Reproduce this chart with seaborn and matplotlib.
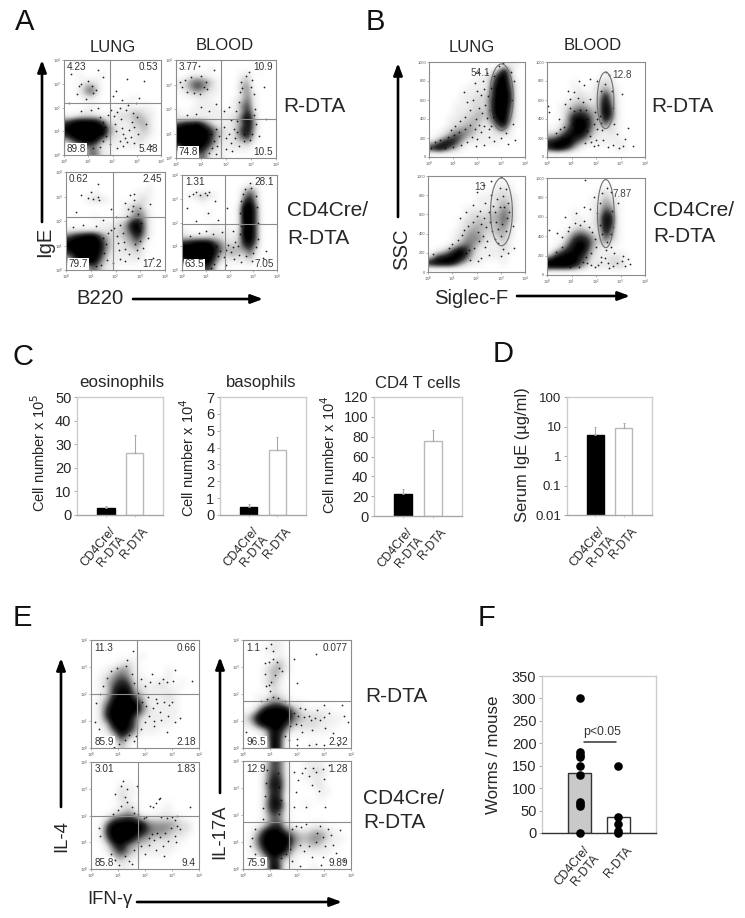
import matplotlib
matplotlib.use('Agg')
import numpy as np
import pandas as pd
import seaborn as sns
import matplotlib.pyplot as plt
from matplotlib.colors import LinearSegmentedColormap
from matplotlib.patches import Ellipse
from matplotlib.transforms import ScaledTranslation

# flow plots
# *_DENS = darkness per 0.25 decade cell, 0 white to 8+ black, top row first, 16 by 16
# *_DOTS = single events, x and y in log decades (SSC linear)

A1_DENS = ["0000000000000000","0000000000000000","0010001000000000","0001110000000000","0013420000000000","0013520000000000","0001100000010000","0000110000100100",
           "0001100011122110","1122221112233210","6899985211123310","8999999421122310","7999998321112210","3689973211112100","1134531111111000","0112541100000000"]
A1_DOTS = [(0.6,2.9),(0.7,3.0),(1.15,2.9),(1.2,2.6),(0.55,2.55),(1.0,3.1),(1.3,2.75),(0.9,2.35),(1.5,1.6),(1.6,1.4),(1.7,1.2),(1.55,0.9),(1.6,0.6),(1.75,0.8),(1.8,1.7),
           (1.95,1.9),(2.05,1.65),(2.1,1.3),(2.15,1.0),(2.2,1.8),(2.3,2.0),(2.35,1.5),(2.4,1.15),(2.45,0.9),(2.5,0.7),(2.55,1.9),(2.65,2.1),(2.7,1.05),(2.75,0.75),(2.8,1.4),
           (2.85,1.75),(2.9,1.2),(2.95,2.2),(3.0,1.6),(3.05,0.9),(2.6,0.55),(2.45,0.4),(2.3,0.6),(3.1,2.4),(2.4,2.3),(2.0,2.5),(1.6,3.3),(2.6,3.2),(3.3,3.1),(0.3,3.4),(1.4,3.6),
           (2.2,0.3),(1.5,0.35),(1.2,0.3),(0.5,0.3),(0.9,0.05),(3.4,1.3),(3.6,0.4),(0.2,2.2),(1.4,2.0),(1.1,1.9),(0.7,1.85),(2.15,2.7),(2.9,0.5),(1.9,0.45)]

A2_DENS = ["0000000000000000","0000010000000100","0011100000120000","1245431000230000","1246421000340000","0122211000241000","0001110001251000","0001111001461000",
           "1011111111372000","1111111112593000","6889631112484000","9999974212683000","9999973212572000","8999963112231000","3899641111110000","0024511100000000"]
A2_DOTS = [(0.15,3.1),(0.25,2.9),(0.35,3.2),(1.1,2.9),(1.2,3.1),(1.25,2.8),(0.45,2.7),(0.7,2.65),(0.95,2.6),(0.6,3.3),(1.0,3.35),(1.4,1.0),(1.5,0.7),(1.6,1.2),(1.45,0.4),(1.7,0.9),(1.65,0.5),
           (1.9,1.25),(2.0,0.8),(2.1,1.0),(2.2,0.6),(2.3,1.2),(2.35,0.8),(2.45,1.5),(2.4,1.9),(2.5,2.3),(2.55,2.7),(2.6,3.1),(3.05,3.2),(3.1,2.6),(3.15,2.0),(3.2,1.4),(3.05,1.0),(2.95,0.75),
           (2.7,0.7),(2.5,0.5),(2.25,0.3),(2.0,0.35),(1.6,0.15),(1.3,0.2),(3.3,0.9),(3.5,2.9),(1.6,2.2),(1.3,1.9),(1.0,2.1),(0.8,1.8),(0.45,1.75),(1.9,1.9),(2.1,2.1),(1.5,3.6),(0.9,3.75),
           (2.9,3.5),(2.8,3.35),(2.65,2.85),(3.0,2.9),(2.7,1.0),(2.45,1.05),(3.1,1.75),(2.2,1.55),(3.6,1.6)]

A3_DENS = ["0000000000000000","0000000000000000","0000000000000100","0000100000011100","0001221000012100","0000000001232000","0000000001243100","0000100011354100",
           "0000011123795100","1111111223695100","5789963223474100","8999984212352000","8999984212231000","5899973111121000","2589952111110000","0013531100000000"]
A3_DOTS = [(0.9,2.95),(1.1,2.9),(1.3,3.0),(1.35,2.85),(0.6,3.05),(1.0,3.2),(1.5,1.3),(1.6,1.05),(1.55,0.7),(1.65,0.4),(1.7,1.5),(1.8,1.65),(1.95,1.7),(2.05,1.4),(2.1,1.1),(2.15,0.8),(2.2,1.85),(2.3,1.5),
           (2.35,1.15),(2.4,0.85),(2.45,2.2),(2.5,2.5),(2.55,0.65),(2.65,2.4),(2.7,2.6),(2.75,2.85),(2.8,1.05),(2.85,0.8),(2.9,2.3),(2.95,1.6),(3.0,1.2),(3.0,2.55),(3.05,1.9),(2.4,2.75),(2.6,3.05),(2.75,3.1),
           (2.2,0.45),(1.9,0.3),(1.4,0.2),(1.2,0.15),(0.5,0.2),(3.3,1.3),(3.5,0.5),(3.4,2.7),(1.5,2.05),(1.2,1.8),(0.7,1.85),(0.3,1.75),(2.0,2.15),(1.8,2.5),(1.3,3.5),(0.4,2.35),(2.9,0.5),(2.4,0.35),(3.1,0.9)]

A4_DENS = ["0000000000000000","0000000000010000","0000000000242000","0123210000463000","0001000000683000","0000000001995000","0000100001995000","0000000001995000",
           "0000010001895000","1000111111995000","2222222112895000","7899964222784000","9999985333462000","9999973232241000","5899952111120000","0025630000000000"]
A4_DOTS = [(0.45,3.2),(0.6,3.3),(0.75,3.15),(0.95,3.25),(1.05,3.15),(1.15,3.3),(0.3,3.1),(1.3,0.7),(1.45,1.0),(1.5,0.6),(1.6,0.8),(1.75,0.55),(1.85,0.85),(1.95,1.05),(2.05,0.75),(2.15,0.95),(2.25,1.2),(2.35,1.0),
           (2.4,0.65),(2.45,1.5),(2.5,1.85),(2.45,2.4),(2.5,2.9),(2.55,3.2),(2.65,3.4),(2.9,3.45),(3.1,3.1),(3.15,2.65),(3.2,2.0),(3.2,1.3),(3.1,0.95),(3.0,0.7),(2.7,0.6),(2.5,0.35),(2.2,0.45),(1.85,0.2),(1.35,0.25),
           (1.2,0.1),(3.4,0.5),(3.55,0.8),(1.7,1.6),(1.3,1.5),(1.0,1.65),(0.7,1.55),(0.35,1.45),(1.5,2.1),(1.1,2.4),(0.6,2.05),(1.9,2.6),(1.4,2.9),(0.2,2.6),(2.15,1.65),(2.85,3.65),(2.95,0.4)]

B1_DENS = ["0000000000001110","0000000000138300","0000000011379400","0000000111489510","0000001111599610","0000011122599710","0000011222699710","0000111222699610",
           "0000112232699510","0001122332589410","0001223321368300","0012344321134100","0124653211111100","2478631111110000","7985310000000000","0000000000000000"]
B1_DOTS = [(0.1,95),(0.25,160),(0.45,180),(0.65,95),(0.8,210),(1.0,105),(1.05,230),(1.25,260),(1.35,125),(1.5,300),(1.6,160),(1.7,340),(1.8,210),(1.9,300),(1.95,400),(2.0,190),(2.1,340),(2.15,260),(2.2,460),(2.3,330),(2.35,550),
           (2.4,410),(2.45,640),(2.5,300),(2.55,500),(2.6,730),(2.65,420),(2.7,850),(1.5,420),(1.7,500),(1.85,600),(2.0,700),(2.15,650),(2.25,800),(2.4,880),(1.3,380),(1.1,330),(0.9,280),(1.6,580),(1.9,780),(2.1,520),(2.3,720),(2.5,210),
           (2.7,170),(3.0,200),(3.2,250),(3.5,350),(3.45,600),(3.55,800),(3.4,900),(2.9,960),(3.1,985),(2.05,900),(1.45,680),(2.3,130),(2.6,330),(1.95,120),(3.6,180),(3.3,140)]

B2_DENS = ["0000000000000000","0000000001000000","0000000001100000","0000100022200000","0000110123210000","0000121127310000","0001222138410000","0012343239510000",
           "0013565339610000","0014887428510000","0024898425210000","1136897321210000","3468875211110000","7899642111111000","7986310000011000","0000000000000000"]
B2_DOTS = [(0.35,250),(0.55,290),(0.7,320),(0.5,400),(0.75,560),(0.95,610),(1.1,680),(1.25,620),(1.45,580),(1.6,500),(1.65,270),(1.75,220),(1.9,350),(1.95,470),(2.05,400),(2.05,300),(2.15,430),(2.2,360),(2.1,130),(1.9,120),(2.3,180),
           (2.5,110),(2.7,125),(2.95,100),(3.1,120),(3.2,190),(2.85,240),(2.75,350),(2.7,520),(2.65,690),(2.55,860),(2.4,900),(2.35,770),(2.2,700),(2.05,800),(1.75,820),(1.3,800),(0.85,700),(0.05,540),(0.1,470),(2.25,280),(1.75,610),
           (1.5,760),(1.05,350),(0.6,200),(1.55,150),(1.8,160),(3.3,310),(3.05,660),(2.7,1020),(3.5,120),(2.0,180),(1.1,480),(0.95,520),(1.35,500),(1.65,400)]

B3_DENS = ["0000000000000000","0000000000011100","0000000000112100","0000000011122210","0000000011123210","0000001111224310","0000001222335310","0000012232335310",
           "0000012333234200","0000123432233200","0000124442123100","0001245421112100","0124796311112100","2678985211111000","8999742110001000","0000000000000000"]
B3_DOTS = [(0.2,185),(0.85,250),(1.0,290),(1.25,330),(1.4,390),(1.5,440),(1.55,200),(1.65,480),(1.7,230),(1.85,520),(1.9,250),(2.0,580),(2.05,420),(2.1,320),(2.15,640),(2.2,500),(2.25,380),(2.3,560),(2.35,720),(2.4,470),(2.45,320),(2.5,630),
           (2.55,520),(2.6,800),(2.65,430),(2.7,690),(2.75,340),(2.8,520),(2.85,760),(2.9,450),(2.95,880),(3.0,380),(3.05,500),(3.1,790),(3.15,680),(3.2,430),(3.25,560),(3.3,720),(3.35,620),(2.9,300),(3.1,240),(3.3,200),(3.5,480),(3.55,250),
           (2.5,180),(2.2,150),(1.85,700),(1.55,620),(1.3,560),(2.0,830),(2.3,910),(2.6,950),(3.0,990),(2.75,620),(2.95,680),(3.2,860),(2.35,260),(1.75,130),(2.05,110),(3.0,170)]

B4_DENS = ["0000000000000000","0000000001000000","0000000012100000","0000000113210000","0000000124310000","0000100126510000","0000110138710000","0000111138710000",
           "0001232128510000","0012565316410000","0014787424210000","0136897311100000","1578885211111000","7999964111221000","9999752121222000","0000000000000000"]
B4_DOTS = [(0.35,240),(0.6,290),(0.85,450),(0.9,500),(1.15,540),(1.35,520),(1.5,560),(1.7,490),(1.85,440),(1.95,370),(2.0,290),(1.8,230),(1.6,190),(1.45,130),(1.65,120),(1.8,105),(1.95,85),(2.1,100),(2.2,130),(2.35,175),(2.5,120),(2.55,75),(2.7,95),
           (2.85,120),(3.05,140),(3.2,90),(3.1,200),(2.75,230),(2.6,290),(2.45,340),(2.15,520),(2.05,640),(2.15,740),(2.25,850),(2.45,900),(2.6,860),(2.65,660),(2.7,500),(2.6,420),(1.9,800),(1.5,700),(1.2,640),(0.75,600),(0.4,430),(0.1,460),
           (1.3,80),(0.95,80),(2.2,190),(2.4,260),(3.3,170),(1.55,980),(2.25,420),(1.75,680),(2.9,740),(3.4,110),(0.6,390)]

E1_DENS = ["0000000000000000","0000000000000000","0000000100000000","0000121000000000","0012431000010000","0124541100010000","0135762111210100","0127883211111000",
           "0137995311121000","0259999511111000","0279999521111000","0279995211111000","0139985111110000","0025974111000000","0002631000000000","0000310000000000"]
E1_DOTS = [(0.2,1.65),(0.35,2.0),(0.45,2.3),(0.6,2.6),(0.75,2.85),(0.95,2.95),(1.3,3.05),(1.35,3.25),(1.5,2.75),(1.6,2.4),(1.75,2.05),(1.85,2.55),(1.9,1.7),(2.0,2.3),(2.05,1.55),(2.1,1.9),(2.15,1.2),(2.2,2.45),(2.3,1.5),(2.35,1.0),(2.4,1.8),(2.5,2.4),
           (2.55,1.35),(2.6,1.05),(2.65,2.55),(2.7,1.7),(2.8,2.45),(2.85,1.2),(2.9,1.6),(3.0,1.7),(3.1,0.95),(3.05,2.5),(3.3,1.1),(3.75,2.5),(3.1,2.9),(2.8,0.6),(2.35,0.8),(2.0,0.95),(1.85,0.7),(1.65,0.45),(1.4,0.5),(1.05,0.15),(0.75,0.15),(0.85,0.05),
           (0.3,0.7),(0.4,0.4),(1.55,3.6),(1.6,0.25),(0.15,0.95),(2.25,2.75),(2.45,1.65),(1.25,0.3)]

E2_DENS = ["0000110000000000","0001210000000000","0000010000000000","0000231000000000","0002331000000000","0001320000000000","0002310000000000","0000210000000000",
           "0011321000000000","0013552110000000","0159999421111000","2599999532221110","1379996322211100","0013873111111000","0002961000000000","0001960000100000"]
E2_DOTS = [(0.85,3.7),(1.05,3.85),(1.1,3.6),(0.8,3.15),(0.95,3.2),(1.1,3.3),(1.25,3.2),(1.35,2.95),(1.45,2.85),(1.2,2.7),(1.05,2.45),(0.95,2.35),(0.85,2.3),(0.8,2.75),(1.0,2.1),(1.1,1.9),(1.3,1.85),(0.9,1.8),(0.65,1.75),(1.55,1.75),(1.75,0.8),(1.9,1.3),
           (1.95,0.9),(2.05,1.2),(2.1,1.5),(2.15,0.85),(2.25,1.15),(2.3,1.45),(2.2,0.6),(2.45,1.2),(2.5,1.05),(2.55,0.65),(2.65,1.1),(2.75,1.4),(2.85,1.05),(3.0,1.15),(3.05,0.75),(3.2,1.3),(3.35,0.55),(3.75,1.2),(3.9,0.95),(2.0,0.35),(2.45,0.1),(2.7,0.15),
           (3.0,0.1),(3.5,0.1),(1.9,3.3),(2.0,2.4),(3.0,1.6),(2.7,3.5),(2.0,0.1),(1.55,0.45),(1.7,0.3),(0.1,0.6),(0.3,0.35),(3.65,1.6)]

E3_DENS = ["0000000000000000","0000000000000000","0000000000000000","0000110000000000","0000211000000000","0000210000000000","0000121000010000","0001232000110000",
           "0025676322222100","0169999954443220","0179999754432210","0159996432221100","0026843221111000","0014642111110000","0002311000000000","0000110000000000"]
E3_DOTS = [(1.2,3.3),(1.35,3.0),(1.25,2.7),(1.35,2.5),(1.5,2.3),(1.1,2.35),(1.0,2.2),(0.8,2.05),(1.6,2.1),(1.75,2.05),(2.2,2.35),(2.3,2.3),(2.4,2.45),(2.5,2.6),(2.55,2.65),(1.95,1.9),(2.05,1.95),(2.15,1.15),(2.25,1.3),(2.35,1.1),(2.45,1.35),(2.55,1.2),
           (2.6,1.95),(2.75,1.35),(2.8,1.9),(2.85,1.05),(2.95,1.55),(3.0,1.95),(3.1,1.25),(3.1,1.85),(3.2,2.0),(3.2,1.6),(3.3,1.5),(3.15,1.0),(2.65,0.85),(2.4,0.7),(2.15,0.9),(1.85,0.85),(1.6,0.7),(1.25,0.5),(0.9,0.35),(1.05,0.15),(0.75,0.55),(0.35,1.25),
           (0.3,1.55),(1.4,0.3),(3.65,2.3),(1.7,3.1),(1.1,3.1),(0.9,2.8),(2.7,0.5),(1.75,1.0),(2.0,0.55),(1.5,0.2)]

E4_DENS = ["0002651001110000","0003651001221000","0003761001110000","0004871000120000","0003761000011000","0003860000010000","0004881001000000","0003751000000000",
           "0002541000000000","0013661100110000","0148985322332100","0269999533442110","0259998422321100","0137996211111000","0013842100000000","0002950100100000"]
E4_DOTS = [(0.75,2.25),(0.8,2.7),(0.85,3.2),(0.9,3.65),(1.3,3.55),(1.35,3.05),(1.4,2.55),(1.35,2.05),(0.75,1.85),(0.45,1.5),(0.35,1.15),(0.25,0.85),(0.45,0.55),(0.7,0.3),(1.4,0.4),(1.6,0.55),(1.75,0.75),(1.8,1.5),(1.95,1.6),(2.1,0.9),(2.15,1.55),(2.25,0.65),
           (2.35,1.65),(2.45,0.85),(2.55,0.45),(2.7,1.0),(2.75,1.35),(2.85,1.6),(2.95,1.2),(3.05,0.85),(3.15,1.5),(3.25,1.25),(3.35,0.9),(2.95,0.45),(2.9,0.15),(3.45,0.6),(3.6,1.45),(1.9,3.6),(2.05,3.3),(2.2,3.55),(2.3,3.75),(2.45,3.45),(2.55,3.1),(2.6,3.75),
           (2.7,3.6),(2.8,2.9),(2.95,3.7),(3.0,3.35),(3.2,3.85),(1.95,2.85),(2.35,2.3),(3.05,2.3),(1.8,0.3),(2.1,0.1),(3.75,0.35),(1.9,2.3)]

# quadrant gates, vertical then horizontal, in decades
A_GATES = [(1.88,2.18),(1.79,1.59),(1.91,2.18),(1.80,1.94)]
E_GATES = [(1.70,1.99),(1.69,1.75),(1.74,2.00),(1.70,1.74)]
# upper left, upper right, lower left, lower right
A_LABELS = [('4.23','0.53','89.8','5.48'),('3.77','10.9','74.8','10.5'),('0.62','2.45','79.7','17.2'),('1.31','28.1','63.5','7.05')]
E_LABELS = [('11.3','0.66','85.9','2.18'),('1.1','0.077','96.5','2.32'),('3.01','1.83','85.8','9.4'),('12.9','1.28','75.9','9.89')]

# Siglec-F gates: centre x, centre y, width, height, percent
B_GATES = [(3.02,630,0.98,700),(2.39,596,0.68,596),(3.03,627,0.90,707),(2.40,633,0.68,702)]
B_LABELS = ['54.1','12.8','13','7.87']

GENOTYPES = ['CD4Cre/\nR-DTA','R-DTA']
EOS_MEANS = [3,26.3]
EOS_TOPS = [4,34]
BASO_MEANS = [0.5,3.85]
BASO_TOPS = [0.65,4.65]
CD4_MEANS = [22,75.5]
CD4_TOPS = [27.5,87]
IGE_MEANS = [5.2,8.7]
IGE_TOPS = [9.5,13.5]
WORM_MEANS = [133,35]
WORMS_CRE = [300,180,175,170,150,130,70,65,60,0]
WORMS_RDTA = [150,35,20,5,0]

W, H = 745, 918
TEXT = '#262626'

sns.set_style('white')
plt.rcParams['font.family'] = ['Liberation Sans','DejaVu Sans']
fig = plt.figure(figsize=(W/100, H/100), dpi=100)
dens_cmap = LinearSegmentedColormap.from_list('dens', [(0,'white'),(.125,'#f0f0f0'),(.25,'#dadada'),(.5,'#8a8a8a'),(.75,'#303030'),(1,'black')])


def px_axes(left, top, right, bottom):
    ''' axes from pixel edges of the reference '''
    return fig.add_axes([left/W, 1-bottom/H, (right-left)/W, (bottom-top)/H])


def draw_cloud(ax, dens, dots, ytop):
    grid = np.array([[int(c) for c in row] for row in dens], dtype=float)
    ax.imshow(grid, extent=(0,4,0,ytop), origin='upper', aspect='auto', cmap=dens_cmap, vmin=0, vmax=8, interpolation='bicubic', zorder=1)
    df = pd.DataFrame(dots, columns=['x','y'])
    sns.scatterplot(data=df, x='x', y='y', s=1.6, color='black', alpha=.85, linewidth=0, ax=ax, zorder=2)
    ax.set_xlabel('')
    ax.set_ylabel('')


def flow_frame(ax, linear_y=False):
    ax.set_xlim(0, 4)
    ax.set_xticks(range(5))
    ax.set_xticklabels(['$10^%d$' % i for i in range(5)], fontsize=2.8, color='#555555')
    if linear_y:
        ax.set_ylim(0, 1000)
        ax.set_yticks(range(0, 1001, 200))
        ax.set_yticklabels([str(v) for v in range(0, 1001, 200)], fontsize=2.8, color='#555555')
    else:
        ax.set_ylim(0, 4)
        ax.set_yticks(range(5))
        ax.set_yticklabels(['$10^%d$' % i for i in range(5)], fontsize=2.8, color='#555555')
    ax.tick_params(length=1.2, width=.4, pad=.8, color='#777777', left=True, bottom=True)
    for s in ax.spines.values():
        s.set_color('#8c8c8c')
        s.set_linewidth(.8)


def quad_plot(box, dens, dots, gate, labels):
    ax = px_axes(*box)
    draw_cloud(ax, dens, dots, 4)
    flow_frame(ax)
    ax.axvline(gate[0], color='#8c8c8c', lw=.8, zorder=3)
    ax.axhline(gate[1], color='#8c8c8c', lw=.8, zorder=3)
    kw = dict(transform=ax.transAxes, fontsize=7.2, color='#333333', zorder=4)
    ax.text(.03, .93, labels[0], va='center', **kw)
    ax.text(.97, .93, labels[1], ha='right', va='center', **kw)
    ax.text(.03, .06, labels[2], va='center', bbox=dict(fc='white', ec='none', pad=.6), **kw)
    ax.text(.97, .06, labels[3], ha='right', va='center', **kw)


def ssc_plot(box, dens, dots, gate, label, label_x, label_y):
    ax = px_axes(*box)
    draw_cloud(ax, dens, dots, 1000)
    flow_frame(ax, linear_y=True)
    ax.add_patch(Ellipse((gate[0], gate[1]), gate[2], gate[3], fc='none', ec='#6e6e6e', lw=.8, zorder=3))
    ax.text(label_x, label_y, label, fontsize=7.2, color='#444444', ha='center', va='center', zorder=4)


def genotype_labels(ax):
    ax.set_xticks([0,1])
    ax.set_xticklabels(GENOTYPES, rotation=50, ha='right', va='top', rotation_mode='anchor', ma='right', fontsize=8.7, color=TEXT, linespacing=1.05)


def nudge_labels(ax):
    # has to come after the last tick_params, which puts the transform back
    for lab, dx in zip(ax.get_xticklabels(), [3,7]):
        lab.set_transform(lab.get_transform()+ScaledTranslation(dx/100, 0, fig.dpi_scale_trans))


def bar_plot(box, means, tops, xlim, ylim, yticks, log=False):
    ax = px_axes(*box)
    df = pd.DataFrame({'group': GENOTYPES, 'value': means})
    if log:
        ax.set_yscale('log')
    sns.barplot(data=df, x='group', y='value', hue='group', palette=['black','white'], width=.61, legend=False, ax=ax)
    for bar, ec in zip(ax.patches, ['black','#b9b9b9']):
        bar.set_edgecolor(ec)
        bar.set_linewidth(1)
    up = [t-m for t, m in zip(tops, means)]
    ax.errorbar([0,1], means, yerr=[[0,0],up], fmt='none', ecolor='#a8a8a8', elinewidth=.8, capsize=1, capthick=.7)
    ax.set_xlim(*xlim)
    ax.set_ylim(*ylim)
    ax.set_yticks(yticks)
    ax.minorticks_off()
    ax.set_xlabel('')
    ax.set_ylabel('')
    genotype_labels(ax)
    ax.tick_params(axis='y', labelsize=10.5, labelcolor=TEXT, length=2, width=.6, color='#9a9a9a', pad=2, left=True)
    ax.tick_params(axis='x', length=1.5, width=.6, color='#bbbbbb', bottom=True, pad=6)
    nudge_labels(ax)
    for s in ax.spines.values():
        s.set_color('#cccccc')
        s.set_linewidth(1)
    ax.spines['bottom'].set_color('#a8a8a8')
    return ax


# panel A
A_BOXES = [(64,60,161,155),(176,60,276,158),(66,172,165,270),(182,175,277,270)]
A_POPS = [(A1_DENS,A1_DOTS),(A2_DENS,A2_DOTS),(A3_DENS,A3_DOTS),(A4_DENS,A4_DOTS)]
for box, pop, gate, labs in zip(A_BOXES, A_POPS, A_GATES, A_LABELS):
    quad_plot(box, *pop, gate, labs)

# panel B
B_BOXES = [(429,62,525,157),(547,62,645,157),(428,176,525,272),(547,178,645,275)]
B_POPS = [(B1_DENS,B1_DOTS),(B2_DENS,B2_DOTS),(B3_DENS,B3_DOTS),(B4_DENS,B4_DOTS)]
B_TEXT_AT = [(2.15,880),(3.05,860),(2.15,890),(3.05,830)]
for box, pop, gate, lab, at in zip(B_BOXES, B_POPS, B_GATES, B_LABELS, B_TEXT_AT):
    ssc_plot(box, *pop, gate, lab, *at)

# panel C, D
bar_plot((77,397,163,515), EOS_MEANS, EOS_TOPS, (-1.02,1.99), (0,50), range(0,51,10))
bar_plot((220,397,306,515), BASO_MEANS, BASO_TOPS, (-1.0,2.0), (0,7), range(0,8))
bar_plot((374,397,462,516), CD4_MEANS, CD4_TOPS, (-1.0,2.0), (0,120), range(0,121,20))
ige = bar_plot((567,397,652,515), IGE_MEANS, IGE_TOPS, (-1.0,2.0), (.01,100), [.01,.1,1,10,100], log=True)
ige.set_yticklabels(['0.01','0.1','1','10','100'], fontsize=9.5)

# panel E
E_BOXES = [(91,640,199,748),(243,640,351,748),(91,762,199,869),(243,761,351,869)]
E_POPS = [(E1_DENS,E1_DOTS),(E2_DENS,E2_DOTS),(E3_DENS,E3_DOTS),(E4_DENS,E4_DOTS)]
for box, pop, gate, labs in zip(E_BOXES, E_POPS, E_GATES, E_LABELS):
    quad_plot(box, *pop, gate, labs)

# panel F
worm_ax = px_axes(542,676,656,833)
worm_bar = pd.DataFrame({'group': GENOTYPES, 'value': WORM_MEANS})
sns.barplot(data=worm_bar, x='group', y='value', hue='group', palette=['#c9c9c9','white'], width=.6, legend=False, ax=worm_ax)
for bar in worm_ax.patches:
    bar.set_edgecolor('#333333')
    bar.set_linewidth(1)
worm_pts = pd.DataFrame({'group': [GENOTYPES[0]]*len(WORMS_CRE)+[GENOTYPES[1]]*len(WORMS_RDTA), 'value': WORMS_CRE+WORMS_RDTA})
sns.stripplot(data=worm_pts, x='group', y='value', color='black', size=6.2, jitter=False, clip_on=False, ax=worm_ax, zorder=5)
worm_ax.set_xlim(-.99,1.99)
worm_ax.set_ylim(0,350)
worm_ax.set_yticks(range(0,351,50))
worm_ax.set_xlabel('')
worm_ax.set_ylabel('')
genotype_labels(worm_ax)
worm_ax.tick_params(axis='y', labelsize=10.5, labelcolor=TEXT, length=2, width=.6, color='#9a9a9a', pad=2, left=True)
worm_ax.tick_params(axis='x', length=0, pad=8)
nudge_labels(worm_ax)
for s in worm_ax.spines.values():
    s.set_color('#cccccc')
    s.set_linewidth(1)
worm_ax.spines['bottom'].set_color('#333333')
worm_ax.plot([.11,.95],[202,202], color='#333333', lw=1.1)
worm_ax.text(.57, 226, 'p<0.05', ha='center', va='center', fontsize=8.8, color='#333333')

# text and arrows in reference pixels
over = fig.add_axes([0,0,1,1], zorder=20)
over.set_xlim(0,W)
over.set_ylim(H,0)
over.axis('off')

def arrow(x0, y0, x1, y1):
    over.annotate('', xy=(x1,y1), xytext=(x0,y0), arrowprops=dict(arrowstyle='-|>,head_length=.7,head_width=.26', color='black', lw=1.9, shrinkA=0, shrinkB=0))

for seg in [(42,222,42,60),(133,299,263,299),(398,217,398,63),(517,296,630,296),(61,807,61,658),(220,793,220,657),(137,902,342,902)]:
    arrow(*seg)

for s, x, y in [('A',25,22),('B',375,22),('C',23,357),('D',503,354),('E',22,618),('F',487,618)]:
    over.text(x, y, s, fontsize=21, ha='center', va='center', color='#111111')
for s, x, y in [('LUNG',113,47),('BLOOD',225,45),('LUNG',472,47),('BLOOD',593,46)]:
    over.text(x, y, s, fontsize=12, ha='center', va='center', color=TEXT)
for s, x, y in [('R-DTA',283,107),('CD4Cre/',287,211),('R-DTA',287,238),('R-DTA',651,107),('CD4Cre/',653,211),('R-DTA',653,236),
                ('R-DTA',365,697),('CD4Cre/',363,798),('R-DTA',363,823)]:
    over.text(x, y, s, fontsize=15, ha='left', va='center', color=TEXT)
for s, x, y, r, fs in [('IgE',45,242,90,14.6),('B220',100,298,0,14.6),('SSC',402,249,90,14.6),('Siglec-F',471,298,0,14.6),('IL-4',62,836,90,13.3),('IL-17A',220,832,90,13.3),
                       ('IFN-γ',110,900,0,13.3),('Serum IgE (µg/ml)',523,455,90,11.9),('Worms / mouse',493,755,90,12.2),
                       ('eosinophils',122,383,0,12.2),('basophils',261,383,0,12),('CD4 T cells',418,383,0,12),
                       ('Cell number x 10$^{5}$',39,453,90,10.5),('Cell number x 10$^{4}$',188,458,90,10.5),('Cell number x 10$^{4}$',329,455,90,10.5)]:
    over.text(x, y, s, fontsize=fs, rotation=r, ha='center', va='center', color=TEXT)

fig.savefig('out.png', dpi=100)
